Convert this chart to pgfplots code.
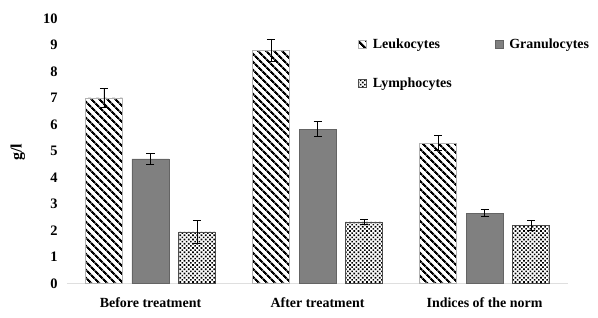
\documentclass[border=0pt]{standalone}
\usepackage{fontspec}
\setmainfont{Liberation Serif}
\usepackage{pgfplots}
\pgfplotsset{compat=1.18}
\usetikzlibrary{patterns,patterns.meta}
\definecolor{granfill}{RGB}{128,128,128}
\definecolor{granedge}{RGB}{100,100,100}
\begin{document}
\begin{tikzpicture}
\path[use as bounding box] (-67bp,-34.5bp) rectangle (531bp,283.5bp);
\begin{axis}[
  at={(0,0)}, anchor=south west,
  scale only axis, width=501bp, height=265bp,
  xmin=-0.5, xmax=2.5, ymin=0, ymax=10,
  ybar=9.5bp, bar width=37bp,
  axis lines*=left,
  y axis line style={draw=none},
  x axis line style={draw=gray!25, line width=0.8bp},
  major tick length=0pt,
  tick style={draw=none},
  ytick={0,1,...,10},
  xtick=data,
  xticklabels={Before treatment, After treatment, Indices of the norm},
  /pgf/number format/assume math mode=true,
  yticklabel style={font=\bfseries\fontsize{14.5}{14.5}\selectfont, xshift=-6bp},
  xticklabel style={font=\bfseries\fontsize{14}{14}\selectfont, yshift=-11bp},
  ylabel={g/l},
  every axis y label/.style={at={(axis description cs:-0.098,0.495)}, rotate=90, anchor=center, font=\bfseries\fontsize{16}{16}\selectfont},
  legend columns=2,
  legend cell align=left,
  legend style={draw=none, fill=none, at={(0.575,0.94)}, anchor=north west,
    font=\bfseries\fontsize{14}{14}\selectfont,
    /tikz/every odd column/.append style={column sep=4bp},
    /tikz/every even column/.append style={column sep=41bp},
    row sep=24bp},
  legend image code/.code={\draw[#1] (0bp,-4bp) rectangle (8bp,4bp);},
  error bars/error bar style={black, line width=0.7bp},
  error bars/error mark options={black, line width=0.7bp, mark size=4bp, rotate=90},
]
\addplot[draw=gray!60, line width=0.5bp, pattern={Lines[angle=-45,distance=6bp,line width=2.6bp]}, pattern color=black,
  error bars/.cd, y dir=both, y explicit]
  coordinates {(0,7.0) +- (0,0.35) (1,8.8) +- (0,0.43) (2,5.3) +- (0,0.28)};
\addplot[draw=granedge, line width=0.5bp, fill=granfill,
  error bars/.cd, y dir=both, y explicit]
  coordinates {(0,4.7) +- (0,0.2) (1,5.83) +- (0,0.28) (2,2.65) +- (0,0.13)};
\addplot[draw=black!70, line width=0.5bp, pattern={Dots[distance=3bp, radius=1.15bp, angle=45]}, pattern color=black,
  error bars/.cd, y dir=both, y explicit]
  coordinates {(0,1.95) +- (0,0.42) (1,2.33) +- (0,0.08) (2,2.2) +- (0,0.18)};
\legend{Leukocytes, Granulocytes, Lymphocytes}
\end{axis}
\end{tikzpicture}
\end{document}
